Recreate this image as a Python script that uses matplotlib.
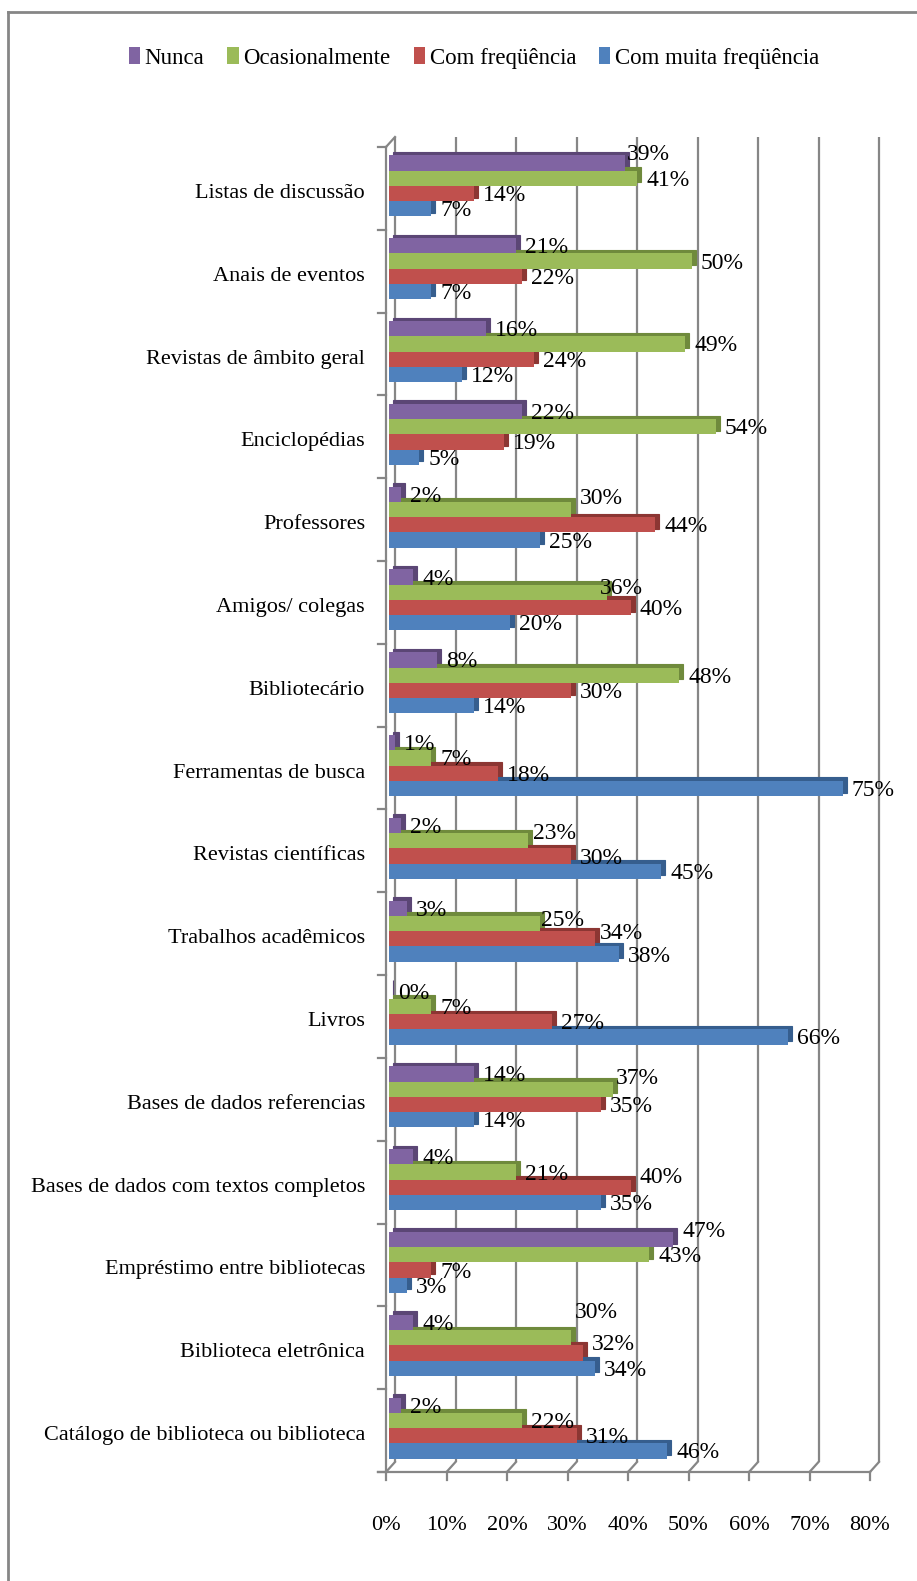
import matplotlib
matplotlib.use("Agg")
import matplotlib.pyplot as plt
from matplotlib.transforms import ScaledTranslation
from matplotlib.patches import Patch
from matplotlib.lines import Line2D
import numpy as np

plt.rcParams['font.family'] = ['Liberation Serif', 'DejaVu Serif']

# ---------------- data ----------------
categories = [
    "Listas de discussão",
    "Anais de eventos",
    "Revistas de âmbito geral",
    "Enciclopédias",
    "Professores",
    "Amigos/ colegas",
    "Bibliotecário",
    "Ferramentas de busca",
    "Revistas científicas",
    "Trabalhos acadêmicos",
    "Livros",
    "Bases de dados referencias",
    "Bases de dados com textos completos",
    "Empréstimo entre bibliotecas",
    "Biblioteca eletrônica",
    "Catálogo de biblioteca ou biblioteca",
]
series_names = ["Nunca", "Ocasionalmente", "Com freqüência", "Com muita freqüência"]
nunca = [39, 21, 16, 22, 2, 4, 8, 1, 2, 3, 0, 14, 4, 47, 4, 2]
ocasionalmente = [41, 50, 49, 54, 30, 36, 48, 7, 23, 25, 7, 37, 21, 43, 30, 22]
com_frequencia = [14, 22, 24, 19, 44, 40, 30, 18, 30, 34, 27, 35, 40, 7, 32, 31]
com_muita_frequencia = [7, 7, 12, 5, 25, 20, 14, 75, 45, 38, 66, 14, 35, 3, 34, 46]
tick_values = [0, 10, 20, 30, 40, 50, 60, 70, 80]
tick_labels = ["0%", "10%", "20%", "30%", "40%", "50%", "60%", "70%", "80%"]

series = [nunca, ocasionalmente, com_frequencia, com_muita_frequencia]
colors = ['#8064A2', '#9BBB59', '#C0504D', '#4F81BD']
dark = ['#5B4675', '#6F8A3C', '#8C3633', '#365E8E']

# label nudges in pixels (dx right, dy up) for (category index, series index)
label_nudge = {
    (0, 0): (-7, 11),
    (4, 1): (0, 13),
    (5, 1): (-16, 6),
    (8, 1): (-4, 9),
    (9, 1): (-8, 5),
    (9, 2): (-4, 7),
    (11, 1): (-6, 13),
    (12, 2): (0, 12),
    (13, 0): (0, 10),
    (14, 1): (-5, 27),
    (14, 2): (0, 10),
}

# ---------------- figure ----------------
W, H = 917, 1581
DPI = 100
fig = plt.figure(figsize=(W / DPI, H / DPI), dpi=DPI)
fig.patch.set_facecolor('white')

left_px, right_px, top_px, bot_px = 386, 870, 147, 1472
ax = fig.add_axes([left_px / W, 1 - bot_px / H, (right_px - left_px) / W, (bot_px - top_px) / H])
n = len(categories)
xmax = tick_values[-1]
ax.set_xlim(0, xmax)
ax.set_ylim(n - 0.5, -0.5)
ax.axis('off')

pxx = ax.bbox.width / xmax
pxy = ax.bbox.height / n


def off(dx, dy):
    return ax.transData + ScaledTranslation(dx / DPI, dy / DPI, fig.dpi_scale_trans)


gc = '#868686'
glw = 1.6
ytop, ybot = -0.5, n - 0.5
DX, DY = 9, 10  # depth of the back wall, px

# back wall gridlines
for v in tick_values:
    ax.plot([v, v], [ytop, ybot], transform=off(DX, DY), color=gc, lw=glw,
            zorder=1, clip_on=False, solid_capstyle='butt')
    # floor diagonals
    ax.plot([v, v + DX / pxx], [ybot, ybot - DY / pxy], color=gc, lw=glw,
            zorder=1, clip_on=False)
    # floor ticks
    ax.plot([v, v], [ybot, ybot + 8 / pxy], color=gc, lw=glw, zorder=1, clip_on=False)

# floor front line
ax.plot([-8 / pxx, xmax], [ybot, ybot], color=gc, lw=glw, zorder=5, clip_on=False)
# left front axis
ax.plot([0, 0], [ytop, ybot], color=gc, lw=glw, zorder=5, clip_on=False)
for b in np.arange(ytop, ybot + 0.01, 1.0):
    ax.plot([-8 / pxx, 0], [b, b], color=gc, lw=glw, zorder=5, clip_on=False)
ax.plot([0, DX / pxx], [ytop, ytop - DY / pxy], color=gc, lw=glw, zorder=5, clip_on=False)

# bars
h = 0.184
y_idx = np.arange(n)
BX, BY = 3, 2.5    # bar front face offset from front plane
SX, SY = 4, 3.5    # bar depth
for i, vals in enumerate(series):
    ys = y_idx + (i - 1.5) * h
    ax.barh(ys, vals, height=h, color=dark[i], edgecolor=dark[i], linewidth=0.8,
            transform=off(BX + SX, BY + SY), zorder=2, clip_on=False)
for i, vals in enumerate(series):
    ys = y_idx + (i - 1.5) * h
    ax.barh(ys, vals, height=h, color=colors[i], transform=off(BX, BY),
            zorder=3, clip_on=False, linewidth=0)

# data labels
for i, vals in enumerate(series):
    for k, v in enumerate(vals):
        y = k + (i - 1.5) * h
        ndx, ndy = label_nudge.get((k, i), (0, 0))
        ax.text(v, y, f"{v}%", transform=off(BX + 9 + ndx, BY - 2 + ndy),
                ha='left', va='center', fontsize=17, color='black', zorder=6,
                clip_on=False)

# category labels
for k, c in enumerate(categories):
    ax.text(0, k, c, transform=off(-21, -5), ha='right', va='center',
            fontsize=16, color='black', clip_on=False)

# x tick labels
for v, t in zip(tick_values, tick_labels):
    ax.text(v, ybot, t, transform=off(0, -53), ha='center', va='center',
            fontsize=16, color='black', clip_on=False)

# legend
handles = [Patch(facecolor=c, edgecolor='none') for c in colors]
fig.legend(handles, series_names, loc='center', bbox_to_anchor=(474 / W, 1 - 58 / H),
           ncol=4, frameon=False, fontsize=16.5, handlelength=0.5, handleheight=0.7,
           handletextpad=0.2, columnspacing=1.0)

# outer border (top and left visible)
fig.add_artist(Line2D([8 / W, 1], [1 - 12 / H, 1 - 12 / H], transform=fig.transFigure,
                      color=gc, lw=2))
fig.add_artist(Line2D([8 / W, 8 / W], [0, 1 - 12 / H], transform=fig.transFigure,
                      color=gc, lw=2))

fig.savefig('out.png', dpi=DPI)
